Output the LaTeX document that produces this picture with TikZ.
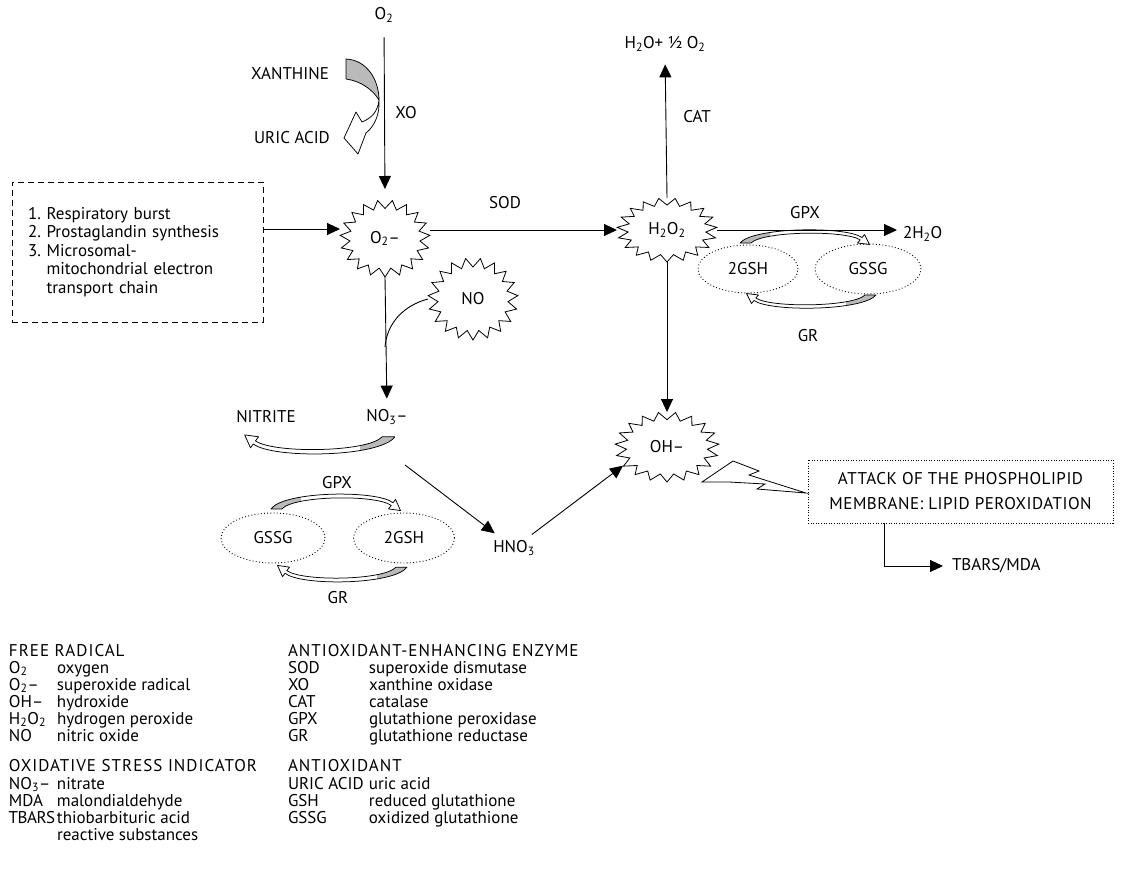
\documentclass[tikz,border=0pt]{standalone}
\usepackage{fontspec}
\setmainfont{PT Sans}
\usetikzlibrary{shapes.geometric,calc,arrows.meta}
\newcommand\sbs[1]{\textsubscript{#1}}
\newcommand\hdr[1]{{\addfontfeature{LetterSpace=6}#1}}
\newcommand\burst[3]{%
  \draw[burstline] ($(#1.center)+(90:#2 and #3)$)
    \foreach \k [evaluate=\k as \f using {mod(\k,2)==0 ? 1 : 0.78}] in {1,...,37}
      { -- ($(#1.center)+({90+\k*(360/38)}:{\f*#2} and {\f*#3})$) } -- cycle;}
\newcommand\blockarc{%
  \begin{scope}
    \clip (-95,-70) rectangle (-38,10);
    \fill[arcgray] (-68,-26) .. controls (-55,-42) and (38,-43) .. (54,-31.5) -- (56.5,-34.5) -- (61.5,-24.5) -- (49.5,-26) -- (52.2,-29.1) .. controls (37,-39) and (-45,-38) .. (-57,-26) -- cycle;
  \end{scope}
  \draw[arcline] (-68,-26) .. controls (-55,-42) and (38,-43) .. (54,-31.5) -- (56.5,-34.5) -- (61.5,-24.5) -- (49.5,-26) -- (52.2,-29.1) .. controls (37,-39) and (-45,-38) .. (-57,-26) -- cycle;}
\newcommand\legrow[6]{\node[lbl, anchor=base west] (#1) at (#2,#3) {\makebox[#4][l]{#5}#6};}
\colorlet{arcgray}{black!27}
\tikzset{
  lbl/.style={inner sep=0pt, outer sep=0pt},
  arr/.style={line width=0.9pt, -{Triangle[length=13pt,width=12pt]}},
  plain/.style={line width=0.9pt},
  burstnode/.style={ellipse, inner sep=0pt, outer sep=0pt},
  burstline/.style={line width=0.8pt, line join=miter},
  gshell/.style={ellipse, draw, line width=0.9pt, dash pattern=on 0.9pt off 2.3pt, inner sep=0pt},
  srcbox/.style={draw, line width=0.8pt, dash pattern=on 6pt off 4pt, inner xsep=16pt, inner ysep=0pt, align=left},
  attbox/.style={draw, line width=0.9pt, dash pattern=on 1pt off 1.6pt, align=center, inner sep=0pt},
  arcline/.style={draw, line width=0.75pt, line join=round},
}
\begin{document}
\begin{tikzpicture}[x=1pt,y=-1pt,font=\fontsize{17}{17}\selectfont]
\useasboundingbox (0,0) rectangle (1123,885);

% ---------- upper part ----------
\node[lbl] (o2top) at (384,15) {O\sbs{2}};
\node[lbl] (xan) at (290,74) {XANTHINE};
\node[lbl] (uric) at (292,138) {URIC ACID};
\node[lbl] (xo) at (406,113) {XO};

\node[burstnode, minimum width=90pt, minimum height=77pt] (o2m) at (385,238.5) {O\sbs{2}–};
\burst{o2m}{45}{38.5}

\node[burstnode, minimum width=100pt, minimum height=64pt] (h2o2) at (667,230) {H\sbs{2}O\sbs{2}};
\burst{h2o2}{50}{32}

\node[burstnode, minimum width=90pt, minimum height=82pt] (no) at (473,299) {NO};
\burst{no}{45}{41}

\node[burstnode, minimum width=104pt, minimum height=70pt] (oh) at (667,447) {OH–};
\burst{oh}{52}{35}

% source box
\node[srcbox, text width=219pt, minimum height=140pt] (src) at (137.5,252)
  {1.\ Respiratory burst\\[1.6pt] 2.\ Prostaglandin synthesis\\[1.6pt] 3.\ Microsomal-\\[1.6pt] \hphantom{3.\ }mitochondrial electron\\[1.6pt] \hphantom{3.\ }transport chain};

\node[lbl] (sod) at (505,203) {SOD};
\node[lbl] (cat) at (697,117) {CAT};
\node[lbl] (h2ohalf) at (665,44) {H\sbs{2}O+ ½ O\sbs{2}};
\node[lbl] (gpxa) at (805,213) {GPX};
\node[lbl, anchor=west] (twoh2o) at (903,234) {2H\sbs{2}O};
\node[lbl] (gra) at (808,336) {GR};
\node[gshell, minimum width=100pt, minimum height=48pt] (gsha) at (748,269) {2GSH};
\node[gshell, minimum width=106pt, minimum height=50pt] (gssga) at (868,269) {GSSG};

% xanthine block arrow
\filldraw[arcline, fill=arcgray] (346,59) .. controls (367,60) and (379,80) .. (379,100) .. controls (373,90) and (361,81) .. (346,79) -- cycle;
\draw[arcline, fill=white] (379,100) .. controls (378,111) and (372,118) .. (362,122) -- (356,112) -- (344,138) -- (358,154) -- (366,133) .. controls (375,126) and (380,113) .. (379,100) -- cycle;

% connectors upper
\draw[arr, shorten <=15pt, shorten >=11pt] (o2top.south) -- (o2m.north);
\draw[arr] (src.east |- 0,229) -- (o2m.west |- 0,229);
\draw[arr] (o2m.east |- h2o2.west) -- (h2o2.west);
\draw[arr, shorten >=13pt] (h2o2.north) -- (h2ohalf.south);
\draw[arr, shorten >=6pt] (h2o2.east) -- (h2o2.east -| twoh2o.west);
\draw[arr] (h2o2.south) -- (oh.north);

% cycle under H2O2
\begin{scope}[shift={(808,269)}]
  \blockarc
  \begin{scope}[rotate=180]\blockarc\end{scope}
\end{scope}

% ---------- middle ----------
\node[lbl] (no3) at (387,417) {NO\sbs{3}–};
\node[lbl] (nitrite) at (266,417) {NITRITE};
\coordinate (nojoin) at (385,347);
\draw[arr, shorten >=11pt] (o2m.south) -- (no3.north);
\draw[plain] (no.west) .. controls (405,305) and (387,322) .. (nojoin);

% nitrite block arrow
\begin{scope}[shift={(316,403)}, xscale=1.16, yscale=1.3, rotate=180]
  \blockarc
\end{scope}

% GSSG / 2GSH cycle (lower)
\node[lbl] (gpxb) at (337,483) {GPX};
\node[lbl] (grb) at (338,598) {GR};
\node[gshell, minimum width=104pt, minimum height=50pt] (gssgb) at (273,538) {GSSG};
\node[gshell, minimum width=101pt, minimum height=50pt] (gshb) at (404,538) {2GSH};
\begin{scope}[shift={(339,538)}, yscale=1.12]
  \blockarc
  \begin{scope}[rotate=180]\blockarc\end{scope}
\end{scope}

\node[lbl] (hno3) at (514,548) {HNO\sbs{3}};
\coordinate (no3out) at (405,465);
\draw[arr, shorten >=12pt] (no3out) -- (hno3);
\draw[arr, shorten <=10pt] (hno3) -- (oh.203);

% lightning
\draw[burstline, fill=white] (702,482) -- (733,461) -- (759,471) -- (749,475) -- (806,493) -- (757,489) -- (765,484) -- (729,482) -- cycle;

% attack box
\node[attbox, minimum width=305pt, minimum height=63pt] (att) at (960.5,491.5) {\addfontfeature{LetterSpace=3}ATTACK OF THE PHOSPHOLIPID\\[8pt]\addfontfeature{LetterSpace=3}MEMBRANE: LIPID PEROXIDATION};
\node[lbl, anchor=west] (tbars) at (952,566) {TBARS/MDA};
\draw[arr, shorten >=9pt] ([xshift=77pt]att.south west) |- (tbars.west);

% ---------- legend ----------
\node[lbl, anchor=base west] (hfr) at (9,656) {\hdr{FREE RADICAL}};
\legrow{l1}{9}{673}{48pt}{O\sbs{2}}{oxygen}
\legrow{l2}{9}{690}{48pt}{O\sbs{2}–}{superoxide radical}
\legrow{l3}{9}{707}{48pt}{OH–}{hydroxide}
\legrow{l4}{9}{724}{48pt}{H\sbs{2}O\sbs{2}}{hydrogen peroxide}
\legrow{l5}{9}{741}{48pt}{NO}{nitric oxide}
\node[lbl, anchor=base west] (hox) at (9,771) {\hdr{OXIDATIVE STRESS INDICATOR}};
\legrow{l6}{9}{789}{48pt}{NO\sbs{3}–}{nitrate}
\legrow{l7}{9}{806}{48pt}{MDA}{malondialdehyde}
\legrow{l8}{9}{823}{48pt}{\kern-0.3pt T\kern-0.5pt B\kern-0.5pt A\kern-0.5pt R\kern-0.5pt S}{thiobarbituric acid}
\legrow{l9}{9}{840}{48pt}{}{reactive substances}

\node[lbl, anchor=base west] (hae) at (288,656) {\hdr{ANTIOXIDANT-ENHANCING ENZYME}};
\legrow{r1}{288}{673}{81pt}{SOD}{superoxide dismutase}
\legrow{r2}{288}{690}{81pt}{XO}{xanthine oxidase}
\legrow{r3}{288}{707}{81pt}{CAT}{catalase}
\legrow{r4}{288}{724}{81pt}{GPX}{glutathione peroxidase}
\legrow{r5}{288}{741}{81pt}{GR}{glutathione reductase}
\node[lbl, anchor=base west] (han) at (288,771) {\hdr{ANTIOXIDANT}};
\legrow{r6}{288}{789}{81pt}{URIC ACID}{uric acid}
\legrow{r7}{288}{806}{81pt}{GSH}{reduced glutathione}
\legrow{r8}{288}{823}{81pt}{GSSG}{oxidized glutathione}
\end{tikzpicture}
\end{document}
